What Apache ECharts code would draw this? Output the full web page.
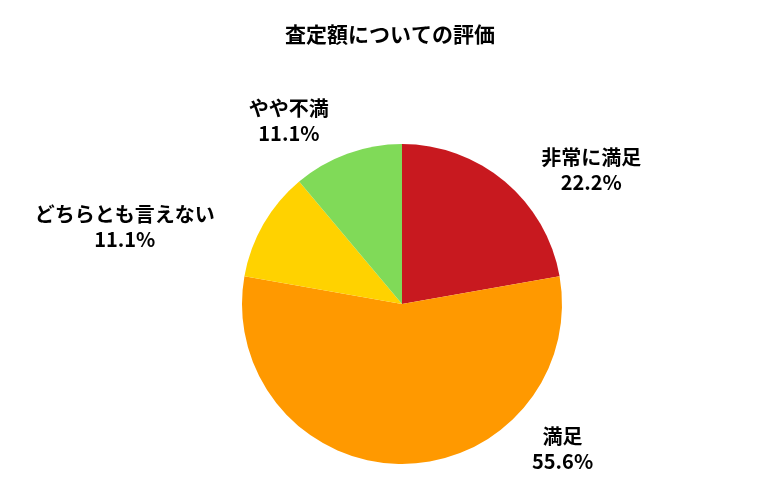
<!DOCTYPE html>
<html><head><meta charset="utf-8">
<script src="https://cdn.jsdelivr.net/npm/echarts@6/dist/echarts.min.js"></script>
<style>html,body{margin:0;padding:0;background:#fff}#c{width:780px;height:500px}</style>
</head><body><div id="c"></div>
<script>
const categories = ['非常に満足','満足','どちらとも言えない','やや不満'];
const values = [2,5,1,1];
const colors = ['#C8191F','#FF9900','#FFD200','#80DA58'];
const labelShift = [[25,-4],[125,-25],[-35,8],[-10,-23]];
const chart = echarts.init(document.getElementById('c'));
chart.setOption({
  animation:false,
  title:{text:'査定額についての評価',left:'center',top:19,textStyle:{fontFamily:'Noto Sans CJK JP',fontSize:21,fontWeight:'bold',color:'#000'}},
  series:[{
    type:'pie',center:[402,304],radius:160,startAngle:90,clockwise:true,
    data:categories.map((n,i)=>({name:n,value:values[i],itemStyle:{color:colors[i]}})),
    label:{show:true,position:'outside',formatter:p=>p.name+'\n'+p.percent.toFixed(1)+'%',
      fontFamily:'Noto Sans CJK JP',fontSize:20,fontWeight:'bold',color:'#000',lineHeight:25,align:'center'},
    labelLine:{show:false,length:10,length2:0},
    labelLayout:function(p){
      const s=labelShift[p.dataIndex];
      return {x:p.labelRect.x+p.labelRect.width/2+s[0],y:p.labelRect.y+p.labelRect.height/2+s[1],align:'center',verticalAlign:'middle'};
    },
    itemStyle:{borderWidth:0}
  }]
});
</script></body></html>
